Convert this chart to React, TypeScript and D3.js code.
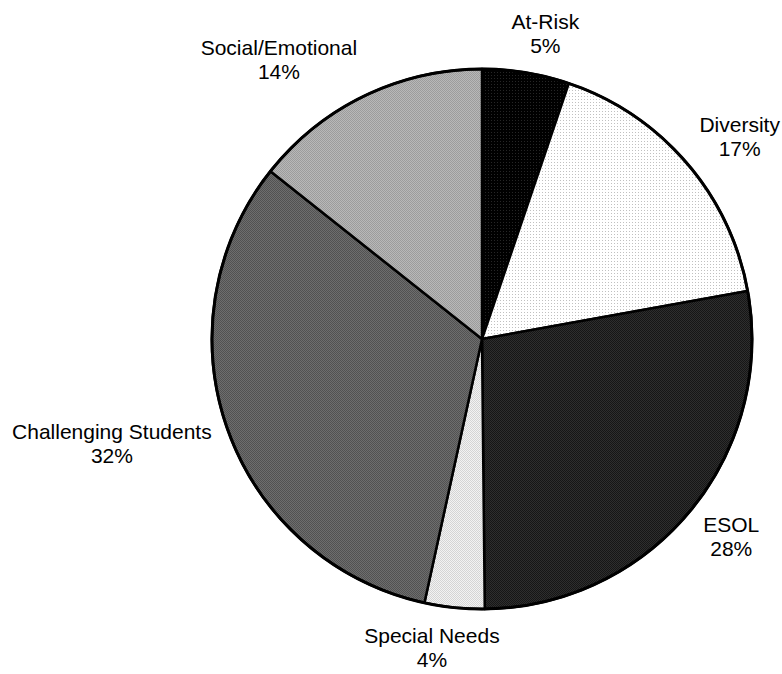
import React from "react";
import * as d3 from "d3";

// Professional-development topic counts, in clockwise order from 12 o'clock
const categories = [
  "At-Risk",
  "Diversity",
  "ESOL",
  "Special Needs",
  "Challenging Students",
  "Social/Emotional",
];
const counts = [16, 52, 85, 11, 99, 44];

// Fill textures per slice: [base colour, dot colour, tile size]
const textures: [string, string, number][] = [
  ["#000000", "#262626", 3],
  ["#ffffff", "#c0c0c0", 3],
  ["#161616", "#2e2e2e", 2],
  ["#d4d4d4", "#f2f2f2", 2],
  ["#525252", "#6e6e6e", 2],
  ["#9c9c9c", "#b8b8b8", 2],
];

const W = 782;
const H = 674;
const CX = 482;
const CY = 339;
const R = 270;
const LABEL_R = 287;
const FONT_SIZE = 21;
const LINE_GAP = 24;
const FONT = "'Liberation Sans', Arial, sans-serif";

function measure(text: string): number {
  const canvas = document.createElement("canvas");
  const ctx = canvas.getContext("2d");
  if (!ctx) return text.length * FONT_SIZE * 0.55;
  ctx.font = `${FONT_SIZE}px 'Liberation Sans', Arial, sans-serif`;
  return ctx.measureText(text).width;
}

export default function App() {
  const total = d3.sum(counts);
  const pie = d3
    .pie<number>()
    .sort(null)
    .value((d) => d)
    .startAngle(0)
    .endAngle(2 * Math.PI);
  const arcs = pie(counts);
  const arc = d3.arc<d3.PieArcDatum<number>>().innerRadius(0).outerRadius(R);

  const clamp = (v: number) => Math.max(-1, Math.min(1, v));

  return (
    <svg
      width={W}
      height={H}
      style={{ position: "absolute", left: 0, top: 0, display: "block" }}
      fontFamily={FONT}
      fontSize={FONT_SIZE}
    >
      <defs>
        {textures.map(([base, dot, s], i) => (
          <pattern
            key={i}
            id={`tex${i}`}
            width={s}
            height={s}
            patternUnits="userSpaceOnUse"
          >
            <rect width={s} height={s} fill={base} shapeRendering="crispEdges" />
            <rect width={1} height={1} fill={dot} shapeRendering="crispEdges" />
            {s === 2 && (
              <rect x={1} y={1} width={1} height={1} fill={dot} shapeRendering="crispEdges" />
            )}
          </pattern>
        ))}
      </defs>
      <rect width={W} height={H} fill="#ffffff" />
      <g transform={`translate(${CX},${CY})`}>
        {arcs.map((a, i) => (
          <path
            key={categories[i]}
            d={arc(a) || ""}
            fill={`url(#tex${i})`}
            stroke="#000"
            strokeWidth={2.5}
            strokeLinejoin="round"
          />
        ))}
        <circle r={R} fill="none" stroke="#000" strokeWidth={3} />
        {arcs.map((a, i) => {
          const mid = (a.startAngle + a.endAngle) / 2;
          const sin = Math.sin(mid);
          const cos = Math.cos(mid);
          const pct = `${Math.round((counts[i] / total) * 100)}%`;
          const w = Math.max(measure(categories[i]), measure(pct));
          const h = 46;
          const px = LABEL_R * sin;
          const py = -LABEL_R * cos;
          const cx = px + (w / 2) * clamp(3 * sin);
          const cy = py + (h / 2) * clamp(-cos);
          return (
            <text key={categories[i]} textAnchor="middle" fill="#000">
              <tspan x={cx} y={cy - 4.5}>
                {categories[i]}
              </tspan>
              <tspan x={cx} y={cy - 4.5 + LINE_GAP}>
                {pct}
              </tspan>
            </text>
          );
        })}
      </g>
    </svg>
  );
}
